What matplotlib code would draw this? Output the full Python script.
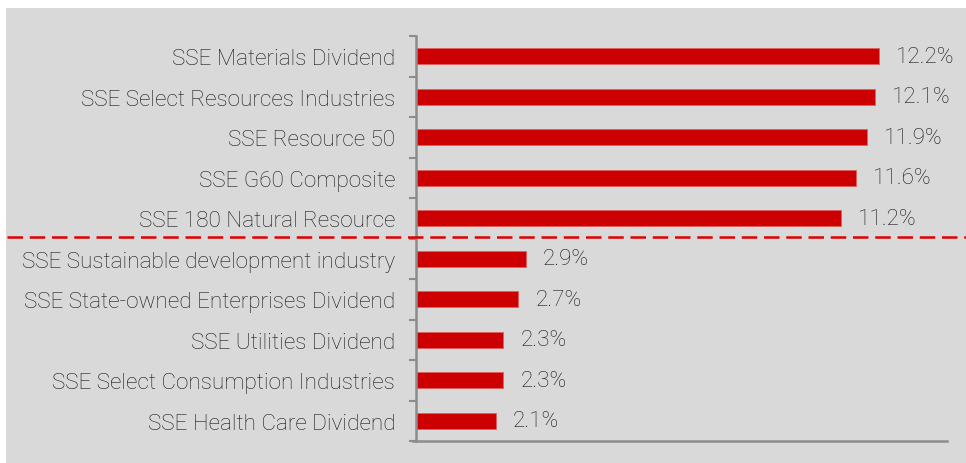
import matplotlib.pyplot as plt
from matplotlib.patches import Rectangle
import numpy as np

categories = [
    "SSE Materials Dividend",
    "SSE Select Resources Industries",
    "SSE Resource 50",
    "SSE G60 Composite",
    "SSE 180 Natural Resource",
    "SSE Sustainable development industry",
    "SSE State-owned Enterprises Dividend",
    "SSE Utilities Dividend",
    "SSE Select Consumption Industries",
    "SSE Health Care Dividend",
]
values = [12.2, 12.1, 11.9, 11.6, 11.2, 2.9, 2.7, 2.3, 2.3, 2.1]
value_labels = ["12.2%", "12.1%", "11.9%", "11.6%", "11.2%", "2.9%", "2.7%", "2.3%", "2.3%", "2.1%"]

plt.rcParams['font.family'] = ['Roboto', 'DejaVu Sans']
text_color = "#1A1A1A"
bar_color = "#CC0000"
fsize = 16.2
fweight = "light"

fig = plt.figure(figsize=(9.66, 4.64), dpi=100)
# gray panel behind everything (white strip on top and left)
fig.patches.append(Rectangle((6 / 966, 0), 1, (464 - 9) / 464, transform=fig.transFigure,
                             facecolor="#D9D9D9", edgecolor="none", zorder=-10))

ax = fig.add_axes([416 / 966, (464 - 442) / 464, (947 - 416) / 966, (442 - 37) / 464])
ax.set_facecolor("none")

y = np.arange(len(categories))
ax.barh(y, values, height=0.4, color=bar_color, edgecolor="#E06060", linewidth=0.6)
for yi, v, lab in zip(y, values, value_labels):
    ax.text(v + 0.45, yi, lab, va="center", ha="left", fontsize=fsize,
            color=text_color, fontweight=fweight)

ax.set_xlim(0, 14)
ax.set_ylim(len(categories) - 0.5, -0.5)
ax.set_yticks(y)
ax.set_yticklabels(categories, fontsize=fsize, color=text_color, fontweight=fweight)
ax.set_yticks(np.arange(len(categories) + 1) - 0.5, minor=True)
ax.tick_params(axis="y", which="major", length=0, pad=15)
ax.tick_params(axis="y", which="minor", length=5, width=1.5, color="#8C8C8C", direction="out")
ax.set_xticks([])
for s in ("top", "right"):
    ax.spines[s].set_visible(False)
for s in ("left", "bottom"):
    ax.spines[s].set_color("#8C8C8C")
    ax.spines[s].set_linewidth(1.8)
ax.spines["bottom"].set_bounds(-0.08, 14)

# dashed separator across the whole panel
fig.add_artist(plt.Line2D([7 / 966, 1], [(464 - 238) / 464] * 2, transform=fig.transFigure,
                          color="#E00000", linewidth=1.8, linestyle=(0, (6.2, 2.7))))

fig.savefig("out.png", dpi=100)
